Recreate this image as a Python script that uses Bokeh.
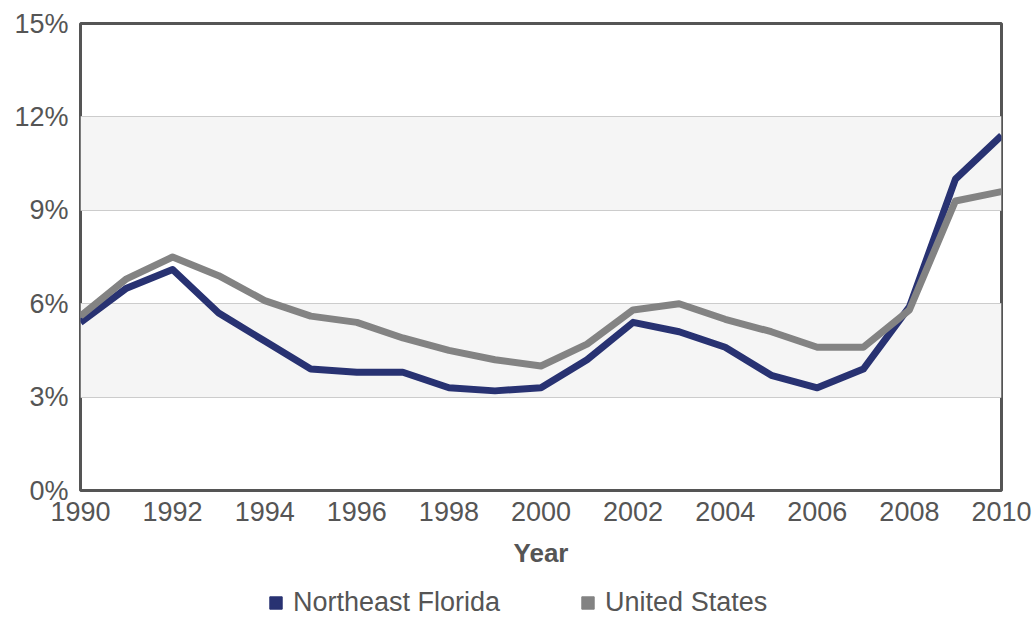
from bokeh.plotting import figure
from bokeh.layouts import column
from bokeh.models import (BoxAnnotation, FixedTicker, PrintfTickFormatter,
                          Legend, LegendItem, ColumnDataSource, Range1d)
from bokeh.embed import file_html
from bokeh.resources import INLINE

# Annual unemployment rate (%)
years = list(range(1990, 2011))
northeast_florida = [5.4, 6.5, 7.1, 5.7, 4.8, 3.9, 3.8, 3.8, 3.3, 3.2, 3.3,
                     4.2, 5.4, 5.1, 4.6, 3.7, 3.3, 3.9, 5.9, 10.0, 11.4]
united_states = [5.6, 6.8, 7.5, 6.9, 6.1, 5.6, 5.4, 4.9, 4.5, 4.2, 4.0,
                 4.7, 5.8, 6.0, 5.5, 5.1, 4.6, 4.6, 5.8, 9.3, 9.6]
series_names = ["Northeast Florida", "United States"]
series_colors = ["#283272", "#838383"]

y_ticks = [0, 3, 6, 9, 12, 15]
x_ticks = list(range(1990, 2011, 2))
shaded_bands = [(3, 6), (9, 12)]

FONT = "Liberation Sans"
TEXT = "#555555"

p = figure(width=1036, height=572, output_backend="svg", toolbar_location=None,
           x_range=Range1d(1990, 2010), y_range=Range1d(0, 15),
           min_border_left=80, min_border_right=35, min_border_top=23,
           min_border_bottom=82, background_fill_color="white",
           border_fill_color="white")

p.outline_line_color = "#555555"
p.outline_line_width = 3

for lo, hi in shaded_bands:
    p.add_layout(BoxAnnotation(bottom=lo, top=hi, fill_color="#f5f5f5",
                               fill_alpha=1.0, line_color=None, level="image"))

p.xgrid.grid_line_color = None
p.ygrid.ticker = FixedTicker(ticks=y_ticks)
p.ygrid.grid_line_color = "#cccccc"
p.ygrid.grid_line_width = 1

src = ColumnDataSource(dict(year=years, nef=northeast_florida, us=united_states))
p.line("year", "nef", source=src, line_color=series_colors[0], line_width=7,
       line_join="round")
p.line("year", "us", source=src, line_color=series_colors[1], line_width=7,
       line_join="round")

# axes
p.yaxis.ticker = FixedTicker(ticks=y_ticks)
p.yaxis.formatter = PrintfTickFormatter(format="%d%%")
p.xaxis.ticker = FixedTicker(ticks=x_ticks)
p.xaxis.formatter = PrintfTickFormatter(format="%d")
for ax in (p.xaxis, p.yaxis):
    ax.axis_line_color = None
    ax.major_tick_line_color = None
    ax.minor_tick_line_color = None
    ax.major_tick_out = 0
    ax.major_tick_in = 0
    ax.major_label_text_font = FONT
    ax.major_label_text_font_size = "27px"
    ax.major_label_text_color = TEXT
p.yaxis.major_label_standoff = 12
p.xaxis.major_label_standoff = 11
p.xaxis.axis_label = "Year"
p.xaxis.axis_label_text_font = FONT
p.xaxis.axis_label_text_font_size = "26px"
p.xaxis.axis_label_text_font_style = "bold"
p.xaxis.axis_label_text_color = TEXT
p.xaxis.axis_label_standoff = 14

# legend strip under the chart, with square swatches
leg = figure(width=1036, height=46, output_backend="svg", toolbar_location=None,
             min_border=0, x_range=Range1d(1990, 2010), y_range=Range1d(0, 15),
             border_fill_color="white", background_fill_color="white")
leg.axis.visible = False
leg.grid.visible = False
leg.outline_line_color = None

swatches = []
for name, color, key in zip(series_names, series_colors, ["nef", "us"]):
    r = leg.scatter("year", key, source=src, marker="square", size=12,
                    fill_color=color, line_color=color, visible=False)
    swatches.append(LegendItem(label=name, renderers=[r]))

legend = Legend(items=swatches, orientation="horizontal", location=(178, 0),
                glyph_width=35, glyph_height=31, label_standoff=0, spacing=70,
                margin=0, padding=0, border_line_color=None,
                background_fill_alpha=0, label_text_font=FONT,
                label_text_font_size="27px", label_text_color=TEXT)
leg.add_layout(legend, "center")

open("out.html", "w").write(file_html(column(p, leg), INLINE))
